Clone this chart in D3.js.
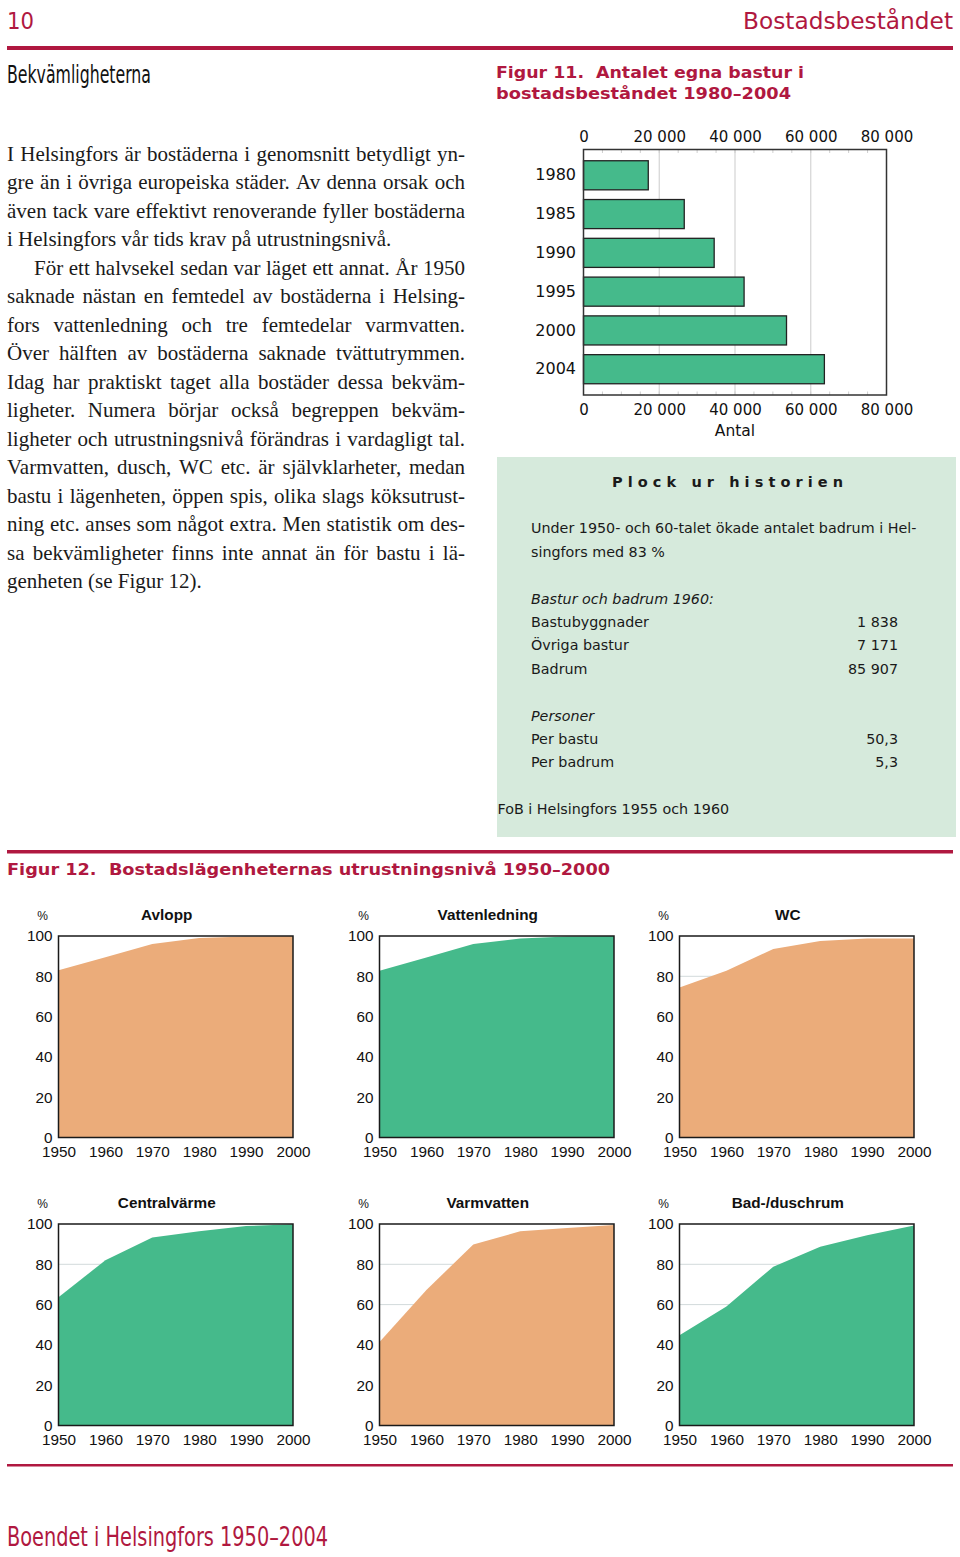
<!DOCTYPE html>
<html><head><meta charset="utf-8">
<script src="https://cdn.jsdelivr.net/npm/d3@7"></script>
<style>body{margin:0;background:#fff} svg text{white-space:pre}</style>
</head><body><svg id="c" width="960" height="1557"></svg>
<script>
// ---------- DATA ----------
const barYears = ["1980","1985","1990","1995","2000","2004"];
const barValues = [17100, 26600, 34500, 42400, 53600, 63600];
const barTicks = [0, 20000, 40000, 60000, 80000];
const barTickLabels = ["0", "20 000", "40 000", "60 000", "80 000"];

const panelYears = [1950, 1960, 1970, 1980, 1990, 2000];
const panelYTicks = [0, 20, 40, 60, 80, 100];
const panelTitles = ["Avlopp", "Vattenledning", "WC", "Centralvärme", "Varmvatten", "Bad-/duschrum"];
const avlopp        = [83.0, 89.5, 96.0, 99.0, 99.7, 100];
const vattenledning = [82.8, 89.3, 96.0, 98.7, 99.8, 100];
const wc            = [74.5, 82.7, 93.6, 97.5, 98.7, 98.8];
const centralvarme  = [63.7, 82.0, 93.3, 96.4, 99.0, 99.9];
const varmvatten    = [41.4, 67.3, 89.8, 96.4, 98.0, 99.5];
const badDusch      = [44.8, 59.1, 78.8, 88.7, 94.4, 99.2];

const plockRows1 = ["Bastubyggnader", "Övriga bastur", "Badrum"];
const plockVals1 = ["1 838", "7 171", "85 907"];
const plockRows2 = ["Per bastu", "Per badrum"];
const plockVals2 = ["50,3", "5,3"];

const bodyLines = [
 ["I Helsingfors är bostäderna i genomsnitt betydligt yn-", 1],
 ["gre än i övriga europeiska städer. Av denna orsak och", 1],
 ["även tack vare effektivt renoverande fyller bostäderna", 1],
 ["i Helsingfors vår tids krav på utrustningsnivå.", 0],
 ["För ett halvsekel sedan var läget ett annat. År 1950", 2],
 ["saknade nästan en femtedel av bostäderna i Helsing-", 1],
 ["fors vattenledning och tre femtedelar varmvatten.", 1],
 ["Över hälften av bostäderna saknade tvättutrymmen.", 1],
 ["Idag har praktiskt taget alla bostäder dessa bekväm-", 1],
 ["ligheter. Numera börjar också begreppen bekväm-", 1],
 ["ligheter och utrustningsnivå förändras i vardagligt tal.", 1],
 ["Varmvatten, dusch, WC etc. är självklarheter, medan", 1],
 ["bastu i lägenheten, öppen spis, olika slags köksutrust-", 1],
 ["ning etc. anses som något extra. Men statistik om des-", 1],
 ["sa bekvämligheter finns inte annat än för bastu i lä-", 1],
 ["genheten (se Figur 12).", 0]
];

// ---------- STYLE ----------
const RED = "#b01840", GREEN = "#45ba8b", ORANGE = "#ebac7a", BOX = "#d6eadc";
const SANS = "'DejaVu Sans', Verdana, sans-serif";
const ARIAL = "'Liberation Sans', Arial, sans-serif";
const NARROW = "'Liberation Sans Narrow', 'DejaVu Sans Condensed', 'Liberation Sans', sans-serif";
const SERIF = "'Liberation Serif', 'Times New Roman', serif";

const svg = d3.select("#c");

// ---------- HEADER ----------
svg.append("text").attr("x", 7).attr("y", 29).attr("font-family", SANS).attr("font-size", 23)
  .attr("fill", RED).attr("textLength", 27).attr("lengthAdjust", "spacingAndGlyphs").text("10");
svg.append("text").attr("x", 743).attr("y", 29).attr("font-family", SANS).attr("font-size", 23)
  .attr("fill", RED).attr("textLength", 210).attr("lengthAdjust", "spacingAndGlyphs").text("Bostadsbeståndet");
svg.append("rect").attr("x", 7).attr("y", 46).attr("width", 946).attr("height", 4).attr("fill", RED);
svg.append("text").attr("x", 7).attr("y", 83).attr("font-family", NARROW).attr("font-size", 24)
  .attr("fill", "#111").attr("textLength", 144).attr("lengthAdjust", "spacingAndGlyphs").text("Bekvämligheterna");

svg.append("text").attr("x", 496).attr("y", 78).attr("font-family", SANS).attr("font-weight", "bold")
  .attr("font-size", 16.5).attr("fill", RED).attr("textLength", 308).attr("lengthAdjust", "spacingAndGlyphs")
  .text("Figur 11.  Antalet egna bastur i");
svg.append("text").attr("x", 496).attr("y", 99).attr("font-family", SANS).attr("font-weight", "bold")
  .attr("font-size", 16.5).attr("fill", RED).attr("textLength", 295).attr("lengthAdjust", "spacingAndGlyphs")
  .text("bostadsbeståndet 1980–2004");

// ---------- BODY TEXT (justified) ----------
const body = svg.append("g").attr("font-family", SERIF).attr("font-size", 21).attr("fill", "#1a1a1a");
const X0 = 7, X1 = 465, Y0 = 160.7, LH = 28.5;
bodyLines.forEach(([line, mode], i) => {
  const y = Y0 + i * LH;
  const start = mode === 2 ? 34 : X0;
  if (mode === 0) {
    body.append("text").attr("x", start).attr("y", y).text(line);
    return;
  }
  const words = line.split(" ");
  const nodes = words.map(w => body.append("text").attr("y", y).text(w));
  let widths = nodes.map(n => n.node().getComputedTextLength());
  let total = d3.sum(widths);
  const minGap = 3.5;
  const avail = X1 - start;
  if (total + minGap * (words.length - 1) > avail) {
    const k = (avail - minGap * (words.length - 1)) / total;
    nodes.forEach((n, j) => { n.attr("textLength", widths[j] * k).attr("lengthAdjust", "spacingAndGlyphs"); });
    widths = widths.map(w => w * k);
    total = d3.sum(widths);
  }
  const gap = (avail - total) / (words.length - 1);
  let x = start;
  nodes.forEach((n, k) => { n.attr("x", x); x += widths[k] + gap; });
});

// ---------- FIGURE 11 BAR CHART ----------
const bx = d3.scaleLinear().domain([0, 80000]).range([583.5, 886.5]);
const by = d3.scaleBand().domain(barYears).range([149.5, 395]).paddingInner(0.25).paddingOuter(0.29);
const bg = svg.append("g");
bg.selectAll("line.grid").data(barTicks.slice(1, -1)).join("line")
  .attr("x1", d => bx(d)).attr("x2", d => bx(d)).attr("y1", 149.5).attr("y2", 395)
  .attr("stroke", "#d4d4d4").attr("stroke-width", 1.2);
const minor = d3.range(5000, 80000, 5000);
bg.selectAll("line.mt").data(minor).join("line")
  .attr("x1", d => bx(d)).attr("x2", d => bx(d)).attr("y1", 149.5).attr("y2", 153)
  .attr("stroke", "#cfcfcf");
bg.selectAll("line.mb").data(minor).join("line")
  .attr("x1", d => bx(d)).attr("x2", d => bx(d)).attr("y1", 391.5).attr("y2", 395)
  .attr("stroke", "#cfcfcf");
bg.selectAll("rect.bar").data(barValues).join("rect")
  .attr("x", bx(0)).attr("y", (d, i) => by(barYears[i]))
  .attr("width", d => bx(d) - bx(0)).attr("height", by.bandwidth())
  .attr("fill", GREEN).attr("stroke", "#222").attr("stroke-width", 1.3);
bg.append("rect").attr("x", 583.5).attr("y", 149.5).attr("width", 303).attr("height", 245.5)
  .attr("fill", "none").attr("stroke", "#333").attr("stroke-width", 1.5);

const fmt = d => barTickLabels[barTicks.indexOf(d)];
const topAx = bg.append("g").attr("transform", "translate(0,149.5)")
  .call(d3.axisTop(bx).tickValues(barTicks).tickFormat(fmt).tickSize(0).tickPadding(7.5));
const botAx = bg.append("g").attr("transform", "translate(0,395)")
  .call(d3.axisBottom(bx).tickValues(barTicks).tickFormat(fmt).tickSize(0).tickPadding(9));
const leftAx = bg.append("g").attr("transform", "translate(583.5,0)")
  .call(d3.axisLeft(by).tickSize(0).tickPadding(7.5));
[topAx, botAx, leftAx].forEach(a => {
  a.select(".domain").remove();
  a.selectAll("text").attr("font-family", SANS).attr("font-size", 15).attr("fill", "#111");
});
leftAx.selectAll("text").attr("font-size", 16);
bg.append("text").attr("x", 735).attr("y", 436).attr("text-anchor", "middle")
  .attr("font-family", SANS).attr("font-size", 15.5).attr("fill", "#111").text("Antal");

// ---------- PLOCK UR HISTORIEN BOX ----------
const pb = svg.append("g").attr("font-family", SANS).attr("fill", "#1a1a1a");
pb.append("rect").attr("x", 497).attr("y", 457).attr("width", 459).attr("height", 380).attr("fill", BOX);
pb.append("text").attr("x", 612).attr("y", 487).attr("font-weight", "bold").attr("font-size", 14.5)
  .attr("textLength", 231).attr("lengthAdjust", "spacing").text("Plock ur historien");
const PF = 14.3;
pb.append("text").attr("x", 531).attr("y", 533).attr("font-size", PF)
  .text("Under 1950- och 60-talet ökade antalet badrum i Hel-");
pb.append("text").attr("x", 531).attr("y", 556.7).attr("font-size", PF).text("singfors med 83 %");
pb.append("text").attr("x", 531).attr("y", 603.5).attr("font-size", PF).attr("font-style", "italic")
  .text("Bastur och badrum 1960:");
plockRows1.forEach((r, i) => {
  const y = 627 + i * 23.4;
  pb.append("text").attr("x", 531).attr("y", y).attr("font-size", PF).text(r);
  pb.append("text").attr("x", 898).attr("y", y).attr("font-size", PF).attr("text-anchor", "end").text(plockVals1[i]);
});
pb.append("text").attr("x", 531).attr("y", 720.5).attr("font-size", PF).attr("font-style", "italic").text("Personer");
plockRows2.forEach((r, i) => {
  const y = 744 + i * 23.4;
  pb.append("text").attr("x", 531).attr("y", y).attr("font-size", PF).text(r);
  pb.append("text").attr("x", 898).attr("y", y).attr("font-size", PF).attr("text-anchor", "end").text(plockVals2[i]);
});
pb.append("text").attr("x", 497.5).attr("y", 814).attr("font-size", PF).text("FoB i Helsingfors 1955 och 1960");

// ---------- FIGURE 12 ----------
svg.append("rect").attr("x", 7).attr("y", 850).attr("width", 946).attr("height", 3.5).attr("fill", RED);
svg.append("text").attr("x", 7).attr("y", 875).attr("font-family", SANS).attr("font-weight", "bold")
  .attr("font-size", 16.5).attr("fill", RED).attr("textLength", 603).attr("lengthAdjust", "spacingAndGlyphs")
  .text("Figur 12.  Bostadslägenheternas utrustningsnivå 1950–2000");

const panelSeries = [avlopp, vattenledning, wc, centralvarme, varmvatten, badDusch];
const panelFill = [ORANGE, GREEN, ORANGE, GREEN, ORANGE, GREEN];
const lefts = [58.5, 379.5, 679.5], tops = [936, 1224], PW = 234.5, PH = 201.5;

panelSeries.forEach((vals, i) => {
  const L = lefts[i % 3], T = tops[Math.floor(i / 3)];
  const x = d3.scaleLinear().domain([1950, 2000]).range([L, L + PW]);
  const y = d3.scaleLinear().domain([0, 100]).range([T + PH, T]);
  const g = svg.append("g");
  g.selectAll("line.grid").data(panelYTicks.slice(1, -1)).join("line")
    .attr("x1", L).attr("x2", L + PW).attr("y1", d => y(d)).attr("y2", d => y(d))
    .attr("stroke", "#d2dadb").attr("stroke-width", 1);
  const area = d3.area().x((d, k) => x(panelYears[k])).y0(y(0)).y1(d => y(d));
  g.append("path").datum(vals).attr("d", area).attr("fill", panelFill[i]);
  g.append("rect").attr("x", L).attr("y", T).attr("width", PW).attr("height", PH)
    .attr("fill", "none").attr("stroke", "#1a1a1a").attr("stroke-width", 1.5);
  const ya = g.append("g").attr("transform", `translate(${L},0)`)
    .call(d3.axisLeft(y).tickValues(panelYTicks).tickFormat(d3.format("d")).tickSize(0).tickPadding(6));
  const xa = g.append("g").attr("transform", `translate(0,${T + PH})`)
    .call(d3.axisBottom(x).tickValues(panelYears).tickFormat(d3.format("d")).tickSize(0).tickPadding(8.5));
  [ya, xa].forEach(a => {
    a.select(".domain").remove();
    a.selectAll("text").attr("font-family", ARIAL).attr("font-size", 15.3).attr("fill", "#111");
  });
  g.append("text").attr("x", L - 16).attr("y", T - 16).attr("text-anchor", "middle")
    .attr("font-family", ARIAL).attr("font-size", 12).attr("fill", "#111").text("%");
  g.append("text").attr("x", L + PW / 2 - 9).attr("y", T - 16.5).attr("text-anchor", "middle")
    .attr("font-family", ARIAL).attr("font-weight", "bold").attr("font-size", 15.3).attr("fill", "#111")
    .text(panelTitles[i]);
});

// ---------- FOOTER ----------
svg.append("rect").attr("x", 7).attr("y", 1464).attr("width", 946).attr("height", 2.5).attr("fill", RED);
svg.append("text").attr("x", 7).attr("y", 1546).attr("font-family", NARROW).attr("font-size", 26)
  .attr("fill", RED).attr("textLength", 321).attr("lengthAdjust", "spacingAndGlyphs")
  .text("Boendet i Helsingfors 1950–2004");
</script></body></html>
